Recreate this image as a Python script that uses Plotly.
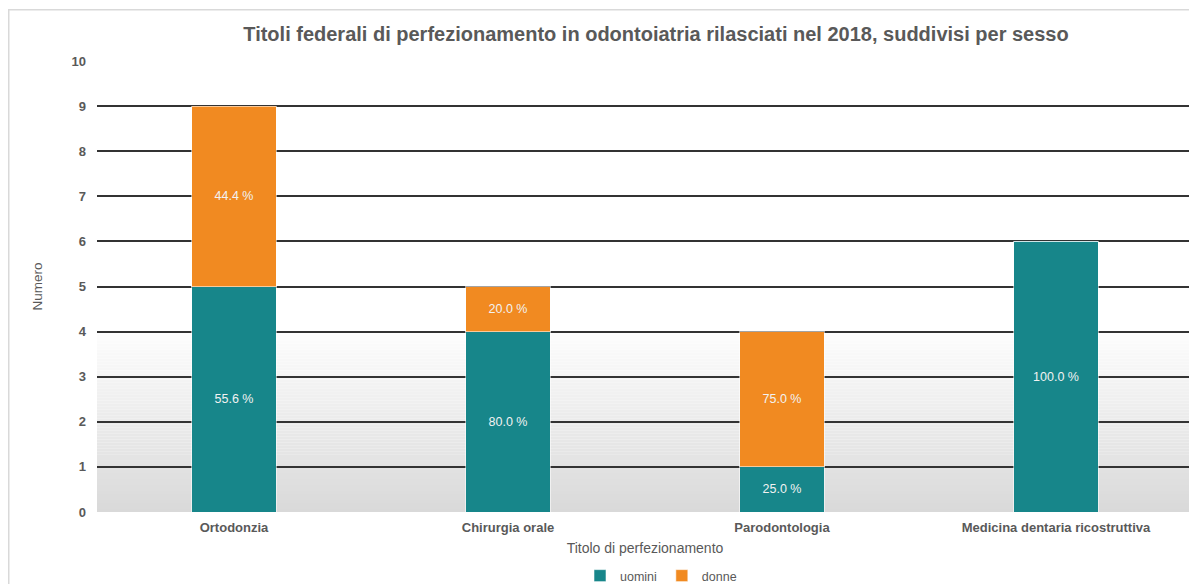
import plotly.graph_objects as go

categories = ["Ortodonzia", "Chirurgia orale", "Parodontologia", "Medicina dentaria ricostruttiva"]
uomini = [5, 4, 1, 6]
donne = [4, 1, 3, 0]
y_ticks = list(range(0, 11))

totals = [u + d for u, d in zip(uomini, donne)]

def labels(vals):
    return [f"{v / t * 100:.1f} %" if v > 0 else "" for v, t in zip(vals, totals)]

FONT = "Liberation Sans, Arial, sans-serif"
OFF = 8  # default page body margin
SW, SH = 1197, 584           # screen size
W, H = SW - OFF, SH - OFF    # figure size
# plot area in screen pixels
PL, PT, PR, PB = 97, 61, 1193, 512
L, T = PL - OFF, PT - OFF
R, B = W - (PR - OFF), H - (PB - OFF)
PW, PH = PR - PL, PB - PT

def px_x(sx):  # screen x -> paper x
    return (sx - PL) / PW

def px_y(sy):  # screen y -> paper y
    return (PB - sy) / PH

fig = go.Figure()
fig.add_trace(go.Bar(
    x=categories, y=uomini, name="uomini",
    marker=dict(color="#17868a", line=dict(color="rgba(255,255,255,0.55)", width=1)),
    text=labels(uomini), textposition="inside", insidetextanchor="middle",
    textfont=dict(color="#f2f2f2", size=12.5, family=FONT),
    hoverinfo="skip",
))
fig.add_trace(go.Bar(
    x=categories, y=donne, name="donne",
    marker=dict(color="#f18a21", line=dict(color="rgba(255,255,255,0.55)", width=1)),
    text=labels(donne), textposition="inside", insidetextanchor="middle",
    textfont=dict(color="#f2f2f2", size=12.5, family=FONT),
    hoverinfo="skip",
))

# gradient background in the lower part of the plot area (decoration)
shapes = []
n = 60
g_top, g_bot = 253, 217
for i in range(n):
    y0 = 4 * i / n
    y1 = 4 * (i + 1) / n
    f = (i + 0.5) / n
    g = round(g_bot + (g_top - g_bot) * f)
    shapes.append(dict(type="rect", xref="x domain", yref="y", x0=0, x1=1, y0=y0, y1=y1,
                       fillcolor=f"rgb({g},{g},{g})", line=dict(width=0), layer="below"))
# chart border
shapes.append(dict(type="rect", xref="paper", yref="paper",
                   x0=px_x(8.75), x1=px_x(SW + 10),
                   y0=px_y(SH + 10), y1=px_y(9.75),
                   line=dict(color="#d9d9d9", width=1.5), fillcolor="rgba(0,0,0,0)", layer="below"))

fig.update_layout(
    width=W, height=H,
    margin=dict(l=L, r=R, t=T, b=B, autoexpand=False),
    barmode="stack", bargap=0.69,
    paper_bgcolor="white", plot_bgcolor="white",
    font=dict(family=FONT, color="#595959", size=12),
    title=dict(text="<b>Titoli federali di perfezionamento in odontoiatria rilasciati nel 2018, suddivisi per sesso</b>",
               x=(656 - OFF) / W, xanchor="center", y=1 - (34 - OFF) / H, yanchor="middle",
               font=dict(size=20, color="#595959", family=FONT)),
    xaxis=dict(
        showgrid=False, zeroline=False, showline=False,
        tickfont=dict(size=13, color="#595959", family=FONT),
        tickvals=categories, ticktext=[f"<b>{c}</b>" for c in categories],
        ticks="", ticklabelstandoff=6,
        title=dict(text="Titolo di perfezionamento", font=dict(size=14, color="#595959", family=FONT), standoff=9),
        fixedrange=True,
    ),
    yaxis=dict(
        range=[0, 10], tickvals=y_ticks, ticktext=[f"<b>{v}</b>" for v in y_ticks],
        showgrid=True, gridcolor="#333333", gridwidth=1.5, zeroline=False, showline=False,
        tickfont=dict(size=13, color="#595959", family=FONT),
        ticks="", ticklabelstandoff=10,
        title=dict(text="Numero", font=dict(size=13.5, color="#595959", family=FONT), standoff=25),
        fixedrange=True,
    ),
    legend=dict(orientation="h", x=px_x(661), xanchor="center", y=px_y(576), yanchor="middle",
                font=dict(size=12.5, color="#595959", family=FONT), itemwidth=30, traceorder="normal"),
    shapes=shapes,
)

fig.write_html("out.html")
